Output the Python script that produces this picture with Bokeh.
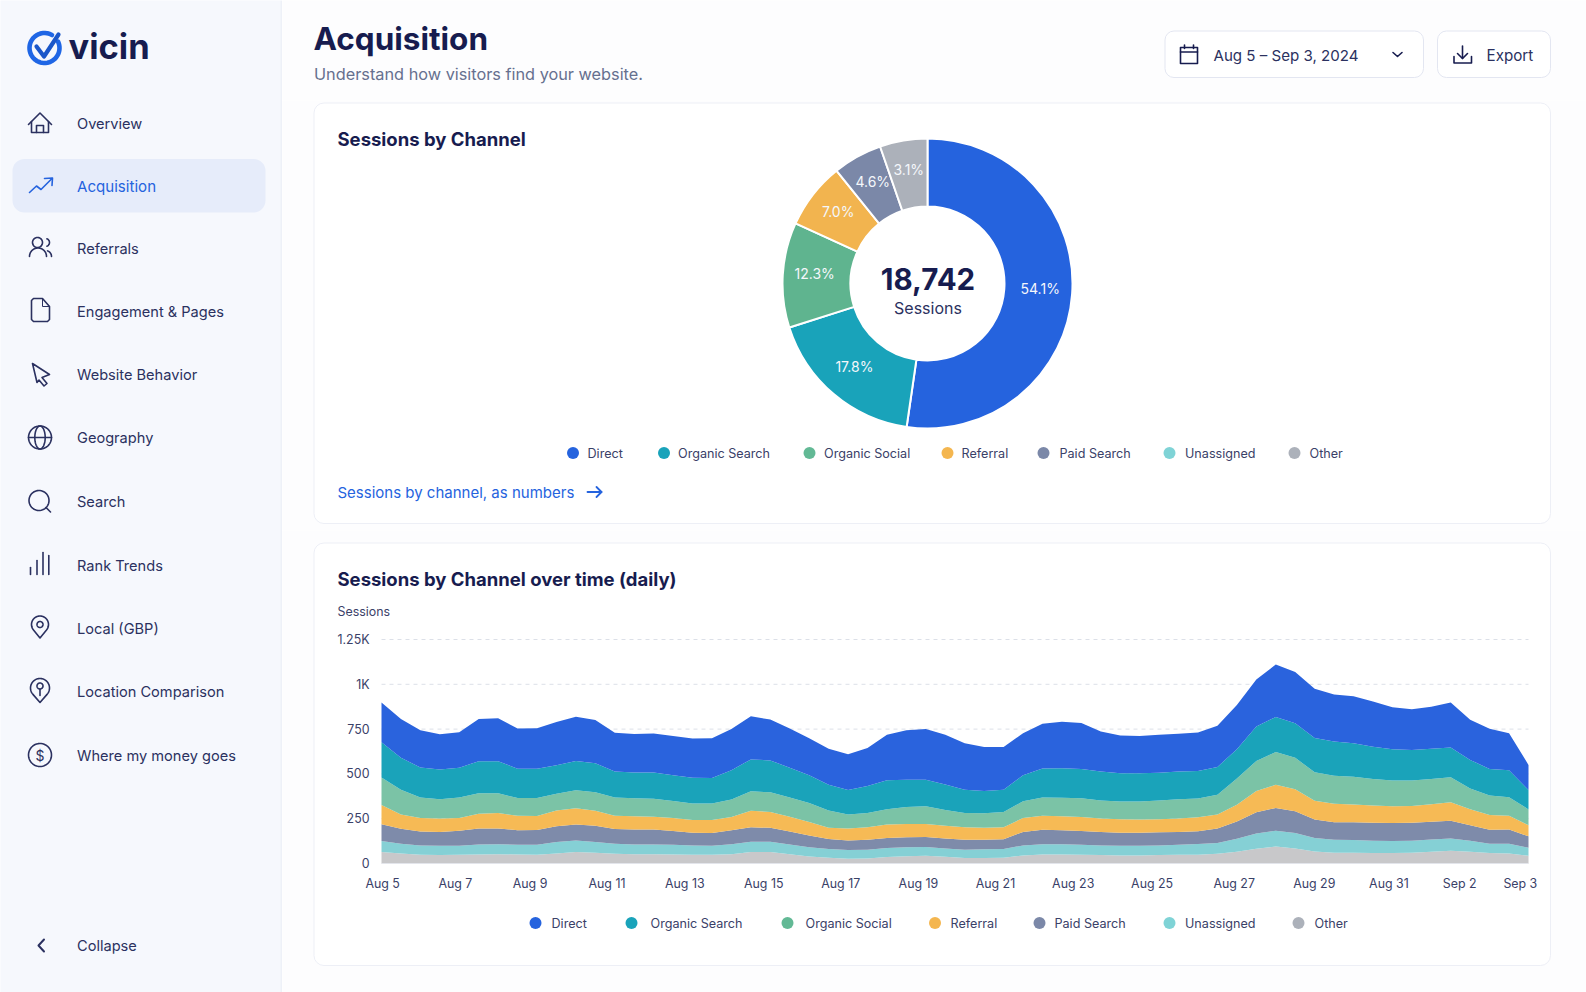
from bokeh.embed import file_html
from bokeh.resources import INLINE
from bokeh.plotting import figure
from bokeh.layouts import row, column
from bokeh.models import (ColumnDataSource, Range1d, Label, BoxAnnotation, FixedTicker)
import numpy as np

# ---------- data ----------
channels = ["Direct", "Organic Search", "Organic Social", "Referral", "Paid Search", "Unassigned", "Other"]
pie_channels = ["Direct", "Organic Search", "Organic Social", "Referral", "Paid Search", "Other"]
pie_arc_share = [52.3, 17.8, 11.7, 7.4, 5.5, 5.3]
pie_labels = ["54.1%", "17.8%", "12.3%", "7.0%", "4.6%", "3.1%"]
total_sessions = "18,742"

sample_day = [i / 2 for i in range(60)]
direct = [222,217,207,196,198,235,239,224,226,241,247,241,215,215,217,219,219,222,230,241,
          228,219,206,200,200,211,254,275,282,277,260,245,239,234,250,260,256,224,211,209,
          211,211,215,230,247,262,292,286,275,262,262,252,235,228,235,250,224,224,206,140]
organic_search = [196,178,168,166,166,179,179,164,163,159,163,163,146,144,146,144,144,142,164,178,
                  178,166,155,144,136,151,161,153,148,142,129,125,123,146,161,164,164,161,157,157,
                  155,155,153,155,164,193,196,193,191,191,187,181,174,170,168,166,159,148,151,108]
organic_social = [153,138,114,108,114,114,110,99,101,93,101,103,101,101,101,95,92,92,97,108,
                  110,108,107,97,78,80,86,95,99,88,80,80,86,93,103,103,105,101,99,101,
                  105,107,105,110,146,168,183,176,159,157,155,148,144,142,142,140,116,110,103,88]
referral = [108,80,75,75,71,82,86,80,78,88,90,84,75,73,71,73,71,73,75,93,
            88,82,75,62,67,69,75,73,73,71,69,67,67,78,78,78,77,75,75,73,
            73,75,78,78,93,118,129,123,105,103,99,95,93,93,97,103,90,82,77,62]
paid_search = [93,84,78,77,84,90,88,82,82,88,90,90,82,84,84,77,71,71,77,80,
               77,73,65,56,54,56,56,56,56,56,56,54,54,75,80,78,77,75,73,73,
               73,71,71,82,97,118,127,121,103,97,99,101,101,101,99,99,86,78,80,64]
unassigned = [62,54,52,52,50,56,56,54,56,64,64,60,56,54,54,54,52,50,56,58,
              58,54,52,49,49,49,50,50,49,47,47,49,49,56,58,58,56,54,54,54,
              54,56,60,60,73,86,88,86,75,73,71,69,67,67,69,69,62,52,54,45]
other = [64,56,49,47,49,50,52,50,49,56,64,60,54,52,52,50,49,49,52,64,
         64,52,39,32,26,28,36,41,43,37,30,30,32,45,50,50,49,47,45,45,
         47,49,49,54,65,82,95,84,67,60,60,58,58,60,65,71,65,58,56,43]

x_tick_days = [0.03, 1.9, 3.82, 5.8, 7.8, 9.83, 11.81, 13.81, 15.79, 17.79, 19.82, 21.93, 23.99, 25.91, 27.73, 29.29]
x_tick_labels = ["Aug 5", "Aug 7", "Aug 9", "Aug 11", "Aug 13", "Aug 15", "Aug 17", "Aug 19",
                 "Aug 21", "Aug 23", "Aug 25", "Aug 27", "Aug 29", "Aug 31", "Sep 2", "Sep 3"]
y_ticks = [0, 250, 500, 750, 1000, 1250]
y_tick_labels = ["0", "250", "500", "750", "1K", "1.25K"]

nav_items = ["Overview", "Acquisition", "Referrals", "Engagement & Pages", "Website Behavior", "Geography",
             "Search", "Rank Trends", "Local (GBP)", "Location Comparison", "Where my money goes", "Collapse"]

# ---------- styling ----------
FONT = "Inter"
NAVY = "#171C4F"
INK = "#2B3160"
BLUE = "#2563DE"
area_colors = {"Direct": "#2A63DD", "Organic Search": "#1AA3BA", "Organic Social": "#7BC3A6", "Referral": "#F6BA55",
               "Paid Search": "#7E8BAA", "Unassigned": "#85D0D5", "Other": "#C8C8CA"}
pie_colors = {"Direct": "#2563DE", "Organic Search": "#19A3BA", "Organic Social": "#5FB48F", "Referral": "#F2B44F",
              "Paid Search": "#7B88A8", "Other": "#ACB1BA"}
legend_colors = {"Direct": "#2563DE", "Organic Search": "#19A3BA", "Organic Social": "#62B995", "Referral": "#F4B64F",
                 "Paid Search": "#7B88A8", "Unassigned": "#7FD3D6", "Other": "#ACB1BA"}
SIDE_BG = "#F6F8FD"
MAIN_BG = "#FDFDFE"
ORIGIN = {}


def chrome_fig(x0, x1, y0, y1, bg):
    """Figure whose frame fills it, with ranges in page pixels (y negated)."""
    p = figure(width=int(x1 - x0), height=int(y1 - y0), x_range=Range1d(x0, x1), y_range=Range1d(-y1, -y0),
               x_axis_type=None, y_axis_type=None, toolbar_location=None, output_backend="svg", min_border=0,
               frame_align=False)
    p.grid.visible = False
    p.outline_line_color = None
    p.background_fill_color = bg
    p.border_fill_color = bg
    ORIGIN[p.id] = (x0, y1)
    return p


def text(p, x, y, s, size, color=INK, style="normal", align="left"):
    ox, oy = ORIGIN[p.id]
    p.add_layout(Label(x=x - ox, y=oy - y, x_units="screen", y_units="screen", text=s, text_font=FONT,
                       text_font_size=f"{size}px", text_color=color, text_font_style=style, text_align=align,
                       text_baseline="middle"))


def box(p, x0, y0, x1, y1, fill, line=None, radius=0, level="image", lw=1):
    ox, oy = ORIGIN[p.id]
    p.add_layout(BoxAnnotation(left=x0 - ox, right=x1 - ox, top=oy - y0, bottom=oy - y1,
                               left_units="screen", right_units="screen", top_units="screen", bottom_units="screen",
                               fill_color=fill, fill_alpha=1, line_color=line, line_width=lw, line_alpha=1,
                               border_radius=radius, level=level, editable=False))


def stroke(p, pts, color=INK, w=1.6):
    p.line([a for a, _ in pts], [-b for _, b in pts], line_color=color, line_width=w, line_cap="round", line_join="round")


def arc(cx, cy, rx, ry=None, a0=0, a1=360, n=48):
    ry = rx if ry is None else ry
    t = np.radians(np.linspace(a0, a1, n))
    return list(zip(cx + rx * np.cos(t), cy + ry * np.sin(t)))


def legend(p, y, dots, texts, names):
    for dx, tx, name in zip(dots, texts, names):
        box(p, dx - 6, y - 6, dx + 6, y + 6, legend_colors[name], radius=6, level="annotation")
        text(p, tx, y, name, 12.6, "#3A4168")


# ---------- sidebar ----------
side = chrome_fig(0, 282, 0, 992, SIDE_BG)
box(side, 280, 0, 282, 992, "#EEF1F8")
box(side, 12, 158.5, 265, 212, "#E6ECFA", radius=12)
nav_y = [123, 186, 248, 311, 374, 437, 501, 565, 628, 691, 755, 945]
for item, ny in zip(nav_items, nav_y):
    text(side, 76.5, ny, item, 15.1 if item == "Acquisition" else 14.6, BLUE if item == "Acquisition" else INK)
stroke(side, arc(44, 47.5, 15, a0=-25, a1=300), "#1F66E5", 4.6)
stroke(side, [(36, 46), (43.5, 56), (58, 34)], "#1B57C9", 4.2)
text(side, 68, 46, "vicin", 34.5, NAVY, "bold")
# icons
stroke(side, [(28, 124), (39.5, 112.5), (51, 124)])
stroke(side, [(31, 121), (31, 132), (48, 132), (48, 121)])
stroke(side, [(36, 132), (36, 125), (43, 125), (43, 132)])
stroke(side, [(29, 192), (36, 185.5), (40.5, 189), (51.5, 178)], BLUE)
stroke(side, [(44, 178), (52, 177.5), (51.5, 185)], BLUE)
stroke(side, arc(37, 242, 5))
stroke(side, arc(37.5, 256, 8.5, a0=180, a1=360))
stroke(side, arc(45, 242, 4, a0=-70, a1=70, n=12))
stroke(side, arc(45, 256, 6, a0=-70, a1=0, n=10))
stroke(side, [(33, 298), (42, 298), (49, 306), (49, 319), (47, 321), (33, 321), (31, 319), (31, 300), (33, 298)])
stroke(side, [(42, 298), (42, 306), (49, 306)], INK, 1)
stroke(side, [(32, 363), (49, 374), (41.5, 377), (46.5, 383), (43.5, 385.5), (38.5, 379.5), (36.5, 382), (32, 363)])
stroke(side, arc(39.5, 437, 11.5))
stroke(side, arc(39.5, 437, 5.2, 11.5))
stroke(side, [(28, 437), (51, 437)])
stroke(side, arc(38.5, 500, 10))
stroke(side, [(45.5, 507), (50, 511.5)])
for bx, top in zip([30, 36.5, 42.5, 48.3], [567, 560, 552, 555]):
    stroke(side, [(bx, 574), (bx, top)])
for py, r in [(624, 8.5), (687.5, 9.5)]:
    stroke(side, arc(39.5, py, r, a0=140, a1=400) + [(39.5, py + r + 5)] + arc(39.5, py, r, a0=140, a1=141, n=2))
stroke(side, arc(39.5, 624, 3))
stroke(side, arc(39.5, 685.5, 3))
stroke(side, [(39.5, 688.5), (39.5, 695)])
stroke(side, arc(39.5, 754.5, 11.5))
text(side, 39.5, 755, "$", 14, INK, "normal", "center")
stroke(side, [(43.5, 939), (38, 945), (43.5, 951)], INK, 2)

# ---------- header ----------
head = chrome_fig(282, 1586, 0, 100, MAIN_BG)
text(head, 313, 38, "Acquisition", 31.5, NAVY, "bold")
text(head, 313.5, 73.5, "Understand how visitors find your website.", 16.3, "#66708F")
box(head, 1164.5, 30.5, 1423, 77, "#FFFFFF", "#E3E6F1", 9)
box(head, 1437, 30.5, 1550, 77, "#FFFFFF", "#E3E6F1", 9)
text(head, 1213, 55, "Aug 5 \u2013 Sep 3, 2024", 15.1, INK)
text(head, 1486, 55, "Export", 15.2, INK)
stroke(head, [(1180, 47), (1197, 47), (1197, 63), (1180, 63), (1180, 47)], NAVY)
stroke(head, [(1180, 51.5), (1197, 51.5)], NAVY)
stroke(head, [(1184, 44.5), (1184, 48)], NAVY)
stroke(head, [(1193, 44.5), (1193, 48)], NAVY)
stroke(head, [(1392.5, 52), (1397, 56), (1401.5, 52)], NAVY)
stroke(head, [(1453.5, 56), (1453.5, 62.5), (1471, 62.5), (1471, 56)], NAVY)
stroke(head, [(1462, 45.5), (1462, 58)], NAVY)
stroke(head, [(1457, 53), (1462, 58), (1467, 53)], NAVY)

# ---------- donut card ----------
card1 = chrome_fig(282, 1586, 100, 530, MAIN_BG)
box(card1, 313.5, 102.5, 1550, 523, "#FFFFFF", "#EDEFF6", 10)
text(card1, 337, 138.5, "Sessions by Channel", 18.5, NAVY, "bold")
CX, CY = 927, 283
share = np.array(pie_arc_share, dtype=float)
edges = np.concatenate([[0], np.cumsum(share)]) / share.sum() * 2 * np.pi
mid = (edges[:-1] + edges[1:]) / 2
pie_src = ColumnDataSource(dict(
    channel=pie_channels, color=[pie_colors[c] for c in pie_channels],
    start=np.pi / 2 - edges[:-1], end=np.pi / 2 - edges[1:],
    lx=CX + 113 * np.sin(mid), ly=-CY + 3 + 113 * np.cos(mid), label=pie_labels))
card1.annular_wedge(x=CX, y=-CY, inner_radius=77, outer_radius=145, start_angle="start", end_angle="end",
                    direction="clock", fill_color="color", line_color="#FFFFFF", line_width=2, source=pie_src)
card1.text(x="lx", y="ly", text="label", source=pie_src, text_color="#F4F7FB", text_font={"value": FONT},
           text_font_size="14px", text_align="center", text_baseline="middle")
text(card1, 927.5, 278, total_sessions, 29.5, NAVY, "bold", "center")
text(card1, 927.5, 307.5, "Sessions", 16, INK, "normal", "center")
legend(card1, 452.5, [572.5, 663.5, 809, 947, 1043, 1169, 1294], [587, 677.5, 823.5, 961, 1059, 1184.5, 1309], channels)
text(card1, 337, 491.5, "Sessions by channel, as numbers", 15, BLUE)
stroke(card1, [(587, 491.5), (601, 491.5)], BLUE, 1.8)
stroke(card1, [(596, 486.5), (601, 491.5), (596, 496.5)], BLUE, 1.8)

# ---------- area card ----------
# The frame fills the figure; the axes are pinned inside it, so the chart's own scales set the plot position.
FRAME_L, FRAME_R, FRAME_T, FRAME_B = 381, 1528, 639, 863
px_per_day = (FRAME_R - FRAME_L) / (sample_day[-1] - sample_day[0])
px_per_session = (FRAME_B - FRAME_T) / (y_ticks[-1] - y_ticks[0])
area = figure(width=1304, height=462, toolbar_location=None, output_backend="svg", frame_align=False, min_border=0,
              x_range=Range1d((282 - FRAME_L) / px_per_day, (1586 - FRAME_L) / px_per_day),
              y_range=Range1d((FRAME_B - 992) / px_per_session, (FRAME_B - 530) / px_per_session))
ORIGIN[area.id] = (282, 992)
area.outline_line_color = None
area.background_fill_color = MAIN_BG
area.border_fill_color = MAIN_BG
area.grid.visible = False
box(area, 313.5, 542.5, 1550, 965, "#FFFFFF", "#EDEFF6", 10)
for level_value in y_ticks[1:]:
    area.line([sample_day[0], sample_day[-1]], [level_value, level_value], line_color="#DCE0E8",
              line_dash=[4, 4], line_width=1, level="underlay")
series = dict(day=sample_day, Direct=direct)
series["Organic Search"] = organic_search
series["Organic Social"] = organic_social
series["Referral"] = referral
series["Paid Search"] = paid_search
series["Unassigned"] = unassigned
series["Other"] = other
order = channels[::-1]
area.varea_stack(stackers=order, x="day", color=[area_colors[c] for c in order], source=ColumnDataSource(series))
ax = area.xaxis[0]
ax.fixed_location = 0
ax.bounds = (sample_day[0], sample_day[-1])
ax.ticker = FixedTicker(ticks=x_tick_days)
ax.major_label_overrides = dict(zip(x_tick_days, x_tick_labels))
ax.major_tick_line_color = None
ax.minor_tick_line_color = None
ax.axis_line_color = "#E3E5EB"
ax.major_label_standoff = 6
ax.major_label_text_font = FONT
ax.major_label_text_font_size = "12.4px"
ax.major_label_text_color = "#3A4168"
ay = area.yaxis[0]
ay.fixed_location = 0
ay.ticker = FixedTicker(ticks=y_ticks)
ay.major_label_overrides = dict(zip(y_ticks, y_tick_labels))
ay.major_tick_line_color = None
ay.minor_tick_line_color = None
ay.axis_line_color = None
ay.major_label_standoff = 6
ay.major_label_text_font = FONT
ay.major_label_text_font_size = "12.4px"
ay.major_label_text_color = "#3A4168"
text(area, 337, 578.5, "Sessions by Channel over time (daily)", 18.5, NAVY, "bold")
text(area, 337, 611, "Sessions", 12.4, "#3A4168")
legend(area, 922.5, [535, 631, 787, 934.5, 1039, 1169, 1298], [551, 650, 805, 950, 1054, 1184.5, 1314], channels)

page = row(side, column(head, card1, area, spacing=0), spacing=0)
open("out.html", "w").write(file_html(page, INLINE))
